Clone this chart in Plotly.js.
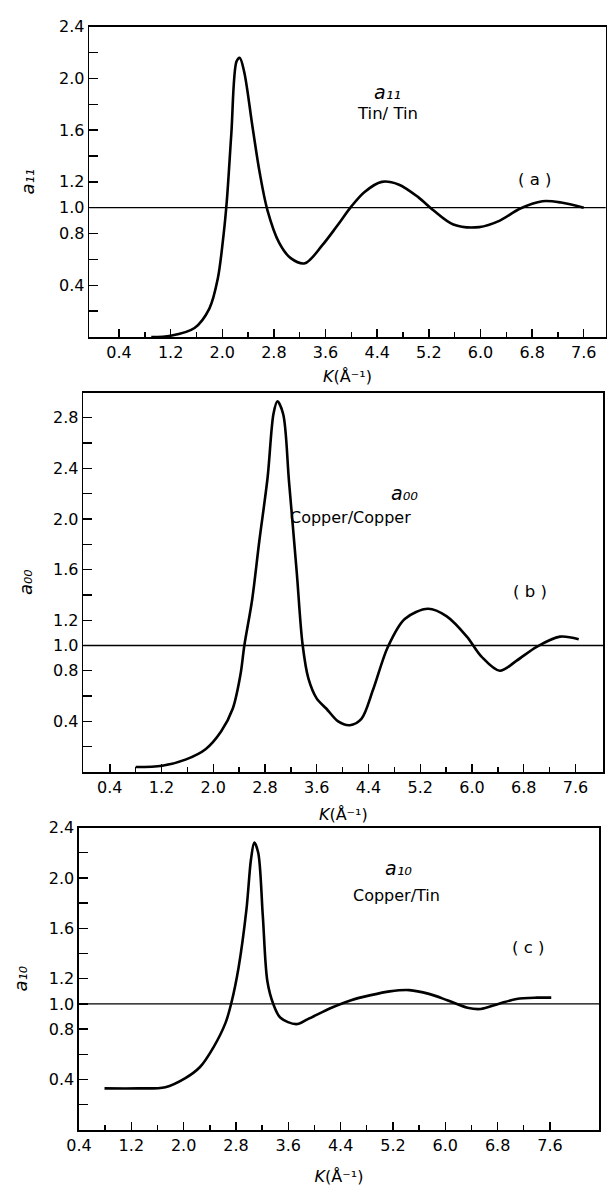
<!DOCTYPE html>
<html>
<head>
<meta charset="utf-8">
<script src="https://cdn.plot.ly/plotly-3.0.1.min.js"></script>
<style>
  html, body { margin: 0; padding: 0; background: #ffffff; }
  #chart { width: 609px; height: 1191px; }
</style>
</head>
<body>
<div id="chart"></div>
<script>
// ---------- data ----------
// (a) a11, Tin/Tin
const kA = [0.9, 1.2, 1.57, 1.8, 1.93, 2.02, 2.07, 2.14, 2.22, 2.27, 2.34, 2.47, 2.58, 2.7, 2.88, 3.06, 3.28, 3.55, 3.78, 4.0, 4.2, 4.47, 4.73, 5.04, 5.27, 5.58, 5.98, 6.3, 6.6, 6.96, 7.25, 7.6];
const a11 = [0.0, 0.01, 0.07, 0.22, 0.45, 0.79, 1.05, 1.57, 2.13, 2.16, 2.05, 1.62, 1.27, 0.98, 0.73, 0.61, 0.57, 0.71, 0.86, 1.01, 1.12, 1.2, 1.18, 1.08, 0.98, 0.87, 0.85, 0.9, 0.99, 1.05, 1.04, 1.0];

// (b) a00, Copper/Copper
const kB = [0.8, 1.21, 1.58, 1.88, 2.12, 2.3, 2.42, 2.48, 2.6, 2.71, 2.84, 2.93, 2.99, 3.08, 3.17, 3.29, 3.38, 3.47, 3.6, 3.75, 3.93, 4.11, 4.29, 4.47, 4.7, 4.96, 5.32, 5.61, 5.92, 6.15, 6.43, 6.69, 7.0, 7.36, 7.65];
const a00 = [0.04, 0.05, 0.1, 0.18, 0.32, 0.5, 0.77, 1.0, 1.36, 1.82, 2.33, 2.83, 2.93, 2.83, 2.3, 1.58, 1.01, 0.74, 0.58, 0.5, 0.4, 0.37, 0.42, 0.65, 0.99, 1.21, 1.29, 1.23, 1.07, 0.91, 0.8, 0.88, 0.99, 1.07, 1.05];

// (c) a10, Copper/Tin
const kC = [0.79, 1.31, 1.72, 2.02, 2.25, 2.46, 2.64, 2.73, 2.84, 2.96, 3.03, 3.08, 3.14, 3.21, 3.28, 3.37, 3.48, 3.72, 3.9, 4.26, 4.56, 4.86, 5.15, 5.45, 5.75, 6.03, 6.34, 6.54, 6.81, 7.09, 7.4, 7.62];
const a10 = [0.33, 0.33, 0.34, 0.41, 0.5, 0.66, 0.85, 1.01, 1.29, 1.75, 2.15, 2.28, 2.2, 1.7, 1.18, 1.0, 0.89, 0.84, 0.88, 0.97, 1.03, 1.07, 1.1, 1.11, 1.08, 1.03, 0.97, 0.96, 1.0, 1.04, 1.05, 1.05];

// reference level
const refLevel = [1.0];

// tick labels
const xMajorVals = [0.4, 1.2, 2.0, 2.8, 3.6, 4.4, 5.2, 6.0, 6.8, 7.6];
const xMajorText = ["0.4", "1.2", "2.0", "2.8", "3.6", "4.4", "5.2", "6.0", "6.8", "7.6"];
const xMinorVals = [0.8, 1.6, 2.4, 3.2, 4.0, 4.8, 5.6, 6.4, 7.2];
const yValsA = [0.4, 0.8, 1.0, 1.2, 1.6, 2.0, 2.4];
const yTextA = ["0.4", "0.8", "1.0", "1.2", "1.6", "2.0", "2.4"];
const yMinorA = [0.2, 0.6, 1.4, 1.8, 2.2];
const yValsB = [0.4, 0.8, 1.0, 1.2, 1.6, 2.0, 2.4, 2.8];
const yTextB = ["0.4", "0.8", "1.0", "1.2", "1.6", "2.0", "2.4", "2.8"];
const yMinorB = [0.2, 0.6, 1.4, 1.8, 2.2, 2.6];

// labels
const curveNames = ["a₁₁", "a₀₀", "a₁₀"];
const pairNames = ["Tin/ Tin", "Copper/Copper", "Copper/Tin"];
const panelTags = ["( a )", "( b )", "( c )"];
const xTitle = "<i>K</i>(Å⁻¹)";

// ---------- figure ----------
const W = 609, H = 1191;
const FONT = "DejaVu Sans";
const px = v => v / W;
const py = v => 1 - v / H;

const curveStyle = {color: "#000000", width: 2.6, shape: "spline", smoothing: 0.9};

const traces = [
  {x: kA, y: a11, xaxis: "x", yaxis: "y", mode: "lines", line: curveStyle, name: "a11", hoverinfo: "x+y"},
  {x: kB, y: a00, xaxis: "x2", yaxis: "y2", mode: "lines", line: curveStyle, name: "a00", hoverinfo: "x+y"},
  {x: kC, y: a10, xaxis: "x3", yaxis: "y3", mode: "lines", line: curveStyle, name: "a10", hoverinfo: "x+y"}
];

function xAxis(domain, range, anchor, standoff) {
  return {
    domain: domain, range: range, anchor: anchor,
    showline: true, mirror: true, linecolor: "#000", linewidth: 1.6,
    showgrid: false, zeroline: false,
    tickmode: "array", tickvals: xMajorVals, ticktext: xMajorText,
    ticks: "inside", ticklen: 8, tickwidth: 1.4, tickcolor: "#000",
    minor: {tickmode: "array", tickvals: xMinorVals, ticks: "inside", ticklen: 5, tickwidth: 1.4, tickcolor: "#000", showgrid: false},
    tickfont: {family: FONT, size: 16, color: "#000"},
    title: {text: xTitle, font: {family: FONT, size: 16, color: "#000"}, standoff: standoff},
    fixedrange: true
  };
}
function yAxis(domain, range, anchor, vals, text, minorVals, title, standoff) {
  return {
    domain: domain, range: range, anchor: anchor,
    showline: true, mirror: true, linecolor: "#000", linewidth: 1.6,
    showgrid: false, zeroline: false,
    tickmode: "array", tickvals: vals, ticktext: text,
    ticks: "inside", ticklen: 9, tickwidth: 1.4, tickcolor: "#000",
    minor: {tickmode: "array", tickvals: minorVals, ticks: "inside", ticklen: 9, tickwidth: 1.4, tickcolor: "#000", showgrid: false},
    tickfont: {family: FONT, size: 16, color: "#000"},
    title: {text: title, font: {family: FONT, size: 18, color: "#000", style: "italic"}, standoff: standoff},
    fixedrange: true
  };
}

const layout = {
  width: W, height: H,
  margin: {l: 0, r: 0, t: 0, b: 0},
  paper_bgcolor: "#ffffff", plot_bgcolor: "#ffffff",
  showlegend: false,
  font: {family: FONT, color: "#000"},
  xaxis:  xAxis([px(89.3), px(605.7)], [-0.06, 7.94], "y", 10),
  yaxis:  yAxis([py(337), py(26.7)], [0, 2.4], "x", yValsA, yTextA, yMinorA, curveNames[0], 20),
  xaxis2: xAxis([px(83.3), px(603.3)], [-0.01, 8.03], "y2", 13),
  yaxis2: yAxis([py(772), py(392.5)], [0, 3.0], "x2", yValsB, yTextB, yMinorB, curveNames[1], 16),
  xaxis3: xAxis([px(79), px(599)], [0.4, 8.35], "y3", 17),
  yaxis3: yAxis([py(1130), py(827.5)], [0, 2.4], "x3", yValsA, yTextA, yMinorA, curveNames[2], 16),
  shapes: [
    {type: "line", xref: "x domain", yref: "y", x0: 0, x1: 1, y0: refLevel[0], y1: refLevel[0], line: {color: "#000", width: 1.3}},
    {type: "line", xref: "x2 domain", yref: "y2", x0: 0, x1: 1, y0: refLevel[0], y1: refLevel[0], line: {color: "#000", width: 1.3}},
    {type: "line", xref: "x3 domain", yref: "y3", x0: 0, x1: 1, y0: refLevel[0], y1: refLevel[0], line: {color: "#000", width: 1.3}}
  ],
  annotations: [
    {xref: "paper", yref: "paper", x: px(387), y: py(79), text: curveNames[0], showarrow: false, font: {family: FONT, size: 19, style: "italic"}},
    {xref: "paper", yref: "paper", x: px(387), y: py(102), text: pairNames[0], showarrow: false, font: {family: FONT, size: 16.5}},
    {xref: "paper", yref: "paper", x: px(553), y: py(168), text: panelTags[0], showarrow: false, font: {family: FONT, size: 16.5}},

    {xref: "paper", yref: "paper", x: px(420), y: py(493), text: curveNames[1], showarrow: false, font: {family: FONT, size: 19, style: "italic"}},
    {xref: "paper", yref: "paper", x: px(413), y: py(517), text: pairNames[1], showarrow: false, font: {family: FONT, size: 16}},
    {xref: "paper", yref: "paper", x: px(549), y: py(592), text: panelTags[1], showarrow: false, font: {family: FONT, size: 16.5}},

    {xref: "paper", yref: "paper", x: px(398), y: py(881), text: curveNames[2], showarrow: false, font: {family: FONT, size: 19, style: "italic"}},
    {xref: "paper", yref: "paper", x: px(396), y: py(907), text: pairNames[2], showarrow: false, font: {family: FONT, size: 16}},
    {xref: "paper", yref: "paper", x: px(546), y: py(959), text: panelTags[2], showarrow: false, font: {family: FONT, size: 16.5}}
  ]
};

Plotly.newPlot("chart", traces, layout, {staticPlot: true, displayModeBar: false});
</script>
</body>
</html>
